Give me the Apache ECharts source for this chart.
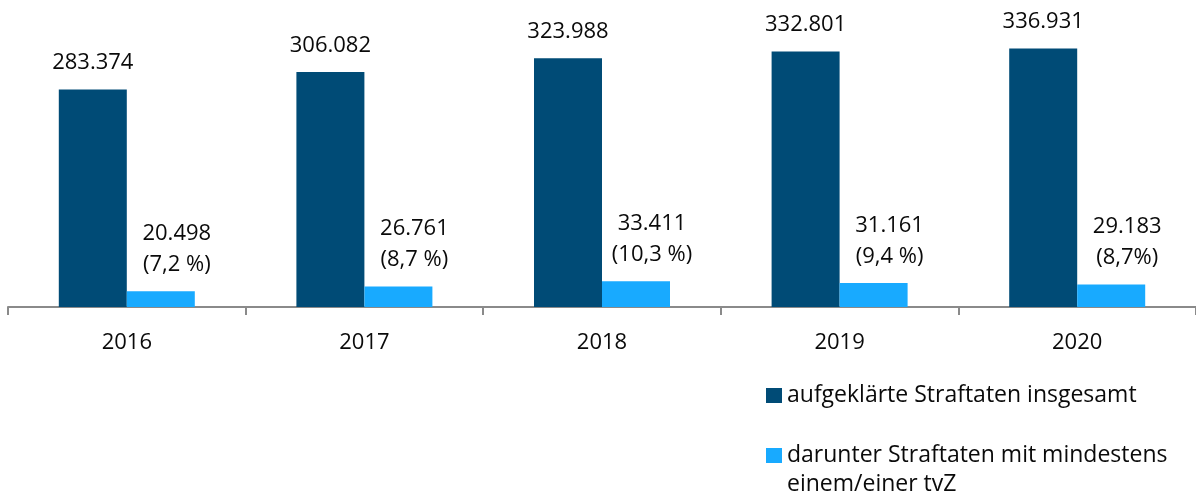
<!DOCTYPE html>
<html>
<head>
<meta charset="utf-8">
<script src="https://cdn.jsdelivr.net/npm/echarts@6/dist/echarts.min.js"></script>
<style>
html,body{margin:0;padding:0;background:#fff;}
#chart{width:1196px;height:499px;}
</style>
</head>
<body>
<div id="chart"></div>
<script>
const years = ['2016', '2017', '2018', '2019', '2020'];
const totalSolved = [283374, 306082, 323988, 332801, 336931];
const withSuspect = [20498, 26761, 33411, 31161, 29183];
const shareLabels = ['(7,2 %)', '(8,7 %)', '(10,3 %)', '(9,4 %)', '(8,7%)'];
const seriesNames = ['aufgeklärte Straftaten insgesamt', 'darunter Straftaten mit mindestens\neinem/einer tvZ'];

function fmt(v) {
  return String(v).replace(/\B(?=(\d{3})+(?!\d))/g, '.');
}

const FONT = '"Open Sans", "Noto Sans", sans-serif';
const chart = echarts.init(document.getElementById('chart'), null, {renderer: 'canvas'});
chart.setOption({
  animation: false,
  textStyle: {fontFamily: FONT},
  grid: {left: 8, top: -1, width: 1191, height: 308, containLabel: false},
  legend: {
    orient: 'vertical',
    left: 766,
    top: 381,
    width: 430,
    height: 300,
    padding: 0,
    itemGap: 2,
    itemWidth: 16,
    itemHeight: 15,
    icon: 'rect',
    selectedMode: false,
    data: [
      {name: seriesNames[0]},
      {name: seriesNames[1]}
    ],
    formatter: function (name) {
      return name === seriesNames[1] ? '\n' + name : name;
    },
    textStyle: {fontFamily: FONT, fontSize: 23, lineHeight: 29, color: '#0a0a0a'}
  },
  xAxis: {
    type: 'category',
    data: years,
    axisLine: {show: true, lineStyle: {color: '#8a8a8a', width: 2}},
    axisTick: {show: true, length: 8, alignWithLabel: false, lineStyle: {color: '#8a8a8a', width: 2}},
    axisLabel: {fontFamily: FONT, fontSize: 22, color: '#0a0a0a', margin: 25}
  },
  yAxis: {type: 'value', show: false, min: 0, max: 400000, splitLine: {show: false}},
  series: [
    {
      name: seriesNames[0],
      type: 'bar',
      data: totalSolved,
      barWidth: 68,
      barGap: '0%',
      itemStyle: {color: '#004b76'},
      label: {
        show: true,
        position: 'top',
        distance: 11,
        fontFamily: FONT,
        fontSize: 22,
        lineHeight: 31,
        color: '#0a0a0a',
        formatter: function (p) { return fmt(p.value); }
      }
    },
    {
      name: seriesNames[1],
      type: 'bar',
      data: withSuspect,
      barWidth: 68,
      barGap: '0%',
      itemStyle: {color: '#18aaff'},
      label: {
        show: true,
        position: 'top',
        distance: 11,
        offset: [16, 0],
        fontFamily: FONT,
        fontSize: 22,
        lineHeight: 31,
        color: '#0a0a0a',
        formatter: function (p) { return fmt(p.value) + '\n' + shareLabels[p.dataIndex]; }
      }
    }
  ]
});
</script>
</body>
</html>
